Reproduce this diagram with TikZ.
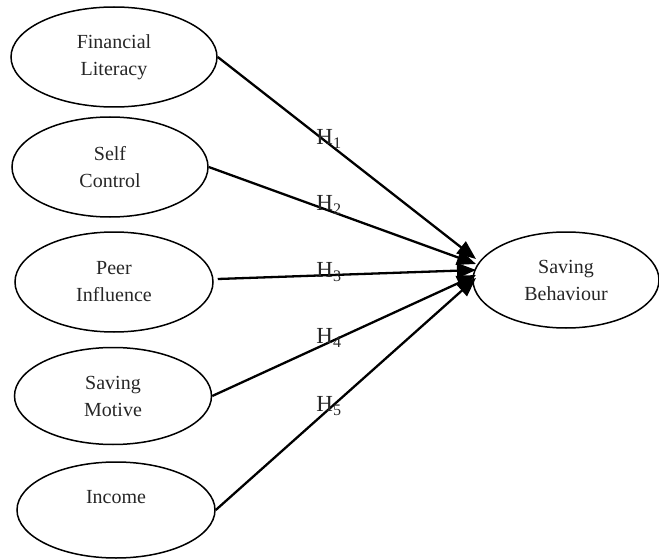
\documentclass[tikz,border=0pt]{standalone}
\usepackage{fontspec}
\setmainfont{Liberation Serif}
\usetikzlibrary{shapes.geometric,arrows.meta}
\begin{document}
\begin{tikzpicture}[x=1pt,y=-1pt,
  ell/.style={draw,ellipse,line width=1.5pt,inner sep=0pt,align=center,
    font=\fontsize{20}{27}\selectfont,text=black!85},
  arr/.style={line width=2.3pt,-{Triangle[length=19pt,width=15pt]}},
  hlab/.style={font=\fontsize{23}{26}\selectfont,inner sep=0pt,text=black!85}]
\useasboundingbox (0,0) rectangle (659,559);
\node[ell,minimum width=206pt,minimum height=100pt] (fl) at (114,57) {Financial\\Literacy};
\node[ell,minimum width=196pt,minimum height=100pt] (sc) at (110,167) {Self\\Control};
\node[ell,minimum width=198pt,minimum height=100pt] (pi) at (114,282) {Peer\\Influence};
\node[ell,minimum width=197pt,minimum height=97pt] (sm) at (113,396) {Saving\\Motive};
\node[ell,minimum width=198pt,minimum height=96pt] (in) at (116,510) {Income\\\phantom{I}};
\node[ell,minimum width=186pt,minimum height=96pt] (sb) at (566,280) {Saving\\Behaviour};
\coordinate (t1) at (476,259);
\coordinate (t2) at (476,264);
\coordinate (t3) at (476,270);
\coordinate (t4) at (476,275);
\coordinate (t5) at (476,278);
\draw[arr] (fl.east) -- (t1);
\draw[arr] (sc.east) -- (t2);
\draw[arr] ([xshift=4pt,yshift=3pt]pi.east) -- (t3);
\draw[arr] (sm.east) -- (t4);
\draw[arr] (in.east) -- (t5);
\node[hlab] (h1) at (329,139) {H\textsubscript{1}};
\node[hlab] (h2) at (329,205) {H\textsubscript{2}};
\node[hlab] (h3) at (329,272) {H\textsubscript{3}};
\node[hlab] (h4) at (329,338) {H\textsubscript{4}};
\node[hlab] (h5) at (329,406) {H\textsubscript{5}};
\end{tikzpicture}
\end{document}
